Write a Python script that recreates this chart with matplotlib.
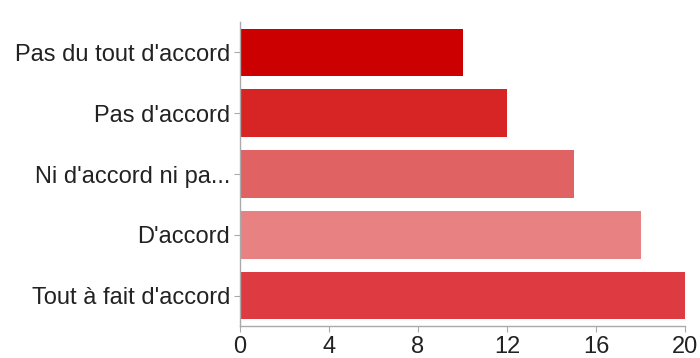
import matplotlib
matplotlib.use("Agg")
import matplotlib.pyplot as plt

categories = ["Pas du tout d'accord", "Pas d'accord", "Ni d'accord ni pa...", "D'accord", "Tout à fait d'accord"]
values = [10, 12, 15, 18, 20]
colors = ["#cc0000", "#d72525", "#e06262", "#e88282", "#dd3b41"]
xticks = [0, 4, 8, 12, 16, 20]

plt.rcParams['font.family'] = ['Liberation Sans', 'DejaVu Sans']
fig = plt.figure(figsize=(7, 3.58), dpi=100)
ax = fig.add_axes([240/700, 1 - 326/358, 445/700, (326-22)/358])
y = list(range(len(categories)))
ax.barh(y, values, height=0.78, color=colors)
ax.set_ylim(len(categories) - 0.5, -0.5)
ax.set_xlim(0, 20)
ax.set_yticks(y)
ax.set_yticklabels(categories, fontsize=17, color="#222222")
ax.set_xticks(xticks)
ax.set_xticklabels([str(t) for t in xticks], fontsize=17, color="#222222")
for s in ["top", "right"]:
    ax.spines[s].set_visible(False)
for s in ["left", "bottom"]:
    ax.spines[s].set_color("#aaaaaa")
    ax.spines[s].set_linewidth(1)
ax.tick_params(axis="both", colors="#aaaaaa", length=4, labelcolor="#222222")
ax.tick_params(axis="y", pad=3)
ax.tick_params(axis="x", pad=3)
fig.savefig("out.png", dpi=100)
